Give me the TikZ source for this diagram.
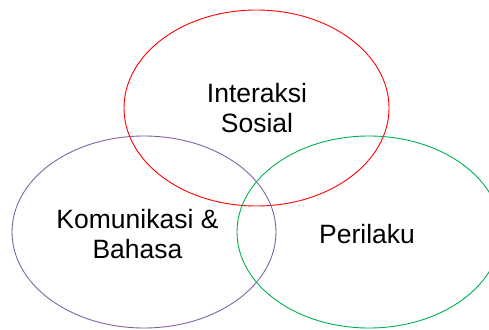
\documentclass[tikz,border=0pt]{standalone}
\usepackage{fontspec}
\setmainfont{Liberation Sans}
\definecolor{vred}{HTML}{FF0000}
\definecolor{vpurple}{HTML}{8064A2}
\definecolor{vgreen}{HTML}{00B050}
\tikzset{
  ring/.style={line width=0.9pt},
  label/.style={align=center, font=\fontsize{26.5}{30.5}\selectfont, inner sep=0pt}
}
\begin{document}
\begin{tikzpicture}[x=1pt,y=-1pt]
\clip (0,0) rectangle (489,329);
\useasboundingbox (0,0) rectangle (489,329);
\draw[ring, vred] (256.5,108) ellipse [x radius=132.5, y radius=98];
\draw[ring, vpurple] (144,232) ellipse [x radius=132, y radius=96];
\draw[ring, vgreen] (369,232) ellipse [x radius=132, y radius=96];
\node[label] (soc) at (257,108) {Interaksi\\Sosial};
\node[label] (kom) at (137.5,234) {Komunikasi \&\\Bahasa};
\node[label] (per) at (367,234) {Perilaku};
\end{tikzpicture}
\end{document}
